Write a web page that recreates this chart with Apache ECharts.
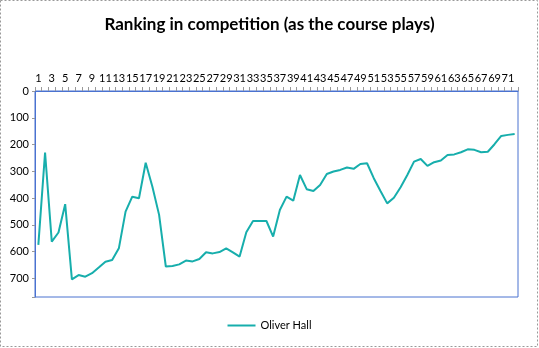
<!DOCTYPE html>
<html><head><meta charset="utf-8">
<script src="https://cdn.jsdelivr.net/npm/echarts@6/dist/echarts.min.js"></script>
<style>html,body{margin:0;padding:0;background:#fff}#c{width:539px;height:348px}</style>
</head><body><div id="c"></div>
<script>
var categories = [];
for (var k = 1; k <= 72; k++) categories.push(String(k));
var oliverHall = [575,230,563,529,423,704,688,694,681,660,638,632,588,451,395,401,268,358,463,656,
654,648,634,637,628,603,607,602,588,603,619,528,486,486,486,544,445,395,410,314,
367,374,351,310,301,295,286,291,273,270,326,374,420,399,360,314,264,254,280,266,
260,239,237,229,218,220,229,227,199,168,164,161];
var yTicks = [0,100,200,300,400,500,600,700];

var chart = echarts.init(document.getElementById('c'));
var font = 'Lato, "Open Sans", sans-serif';
chart.setOption({
  animation: false,
  title: {text: 'Ranking in competition (as the course plays)', left: 'center', top: 11,
    textStyle: {fontFamily: font, fontSize: 17, fontWeight: 'bold', color: '#000'}},
  graphic: [{type: 'rect', shape: {x: 0.5, y: 0.5, width: 537, height: 346},
    style: {fill: 'none', stroke: '#999', lineWidth: 1, lineDash: [2, 2]}}],
  legend: {bottom: 12, left: 'center', itemWidth: 28, itemHeight: 10, itemGap: 4,
    icon: 'path://M0,4L28,4L28,6L0,6Z',
    textStyle: {fontFamily: font, fontSize: 11, color: '#000'}},
  grid: {left: 35, top: 91, right: 21, bottom: 51, show: true, borderColor: '#4a72d0', borderWidth: 1},
  xAxis: {type: 'category', position: 'top', data: categories, boundaryGap: true,
    axisLine: {lineStyle: {color: '#4a72d0'}},
    axisTick: {show: true, interval: 0, length: 4, lineStyle: {color: '#999'}},
    axisLabel: {interval: 1, fontFamily: font, fontSize: 11, color: '#000', margin: 7}},
  yAxis: {type: 'value', inverse: true, min: 0, max: 770, interval: 100,
    splitLine: {show: false},
    axisLine: {show: true, lineStyle: {color: '#4a72d0'}},
    axisTick: {show: true, length: 3, lineStyle: {color: '#999'}},
    axisLabel: {fontFamily: font, fontSize: 11, color: '#000', margin: 6,
      formatter: function (v) { return yTicks.indexOf(v) >= 0 ? String(v) : ''; }}},
  series: [{name: 'Oliver Hall', type: 'line', data: oliverHall, symbol: 'none',
    lineStyle: {color: '#17aeac', width: 2}, itemStyle: {color: '#17aeac'}}]
});
</script></body></html>
